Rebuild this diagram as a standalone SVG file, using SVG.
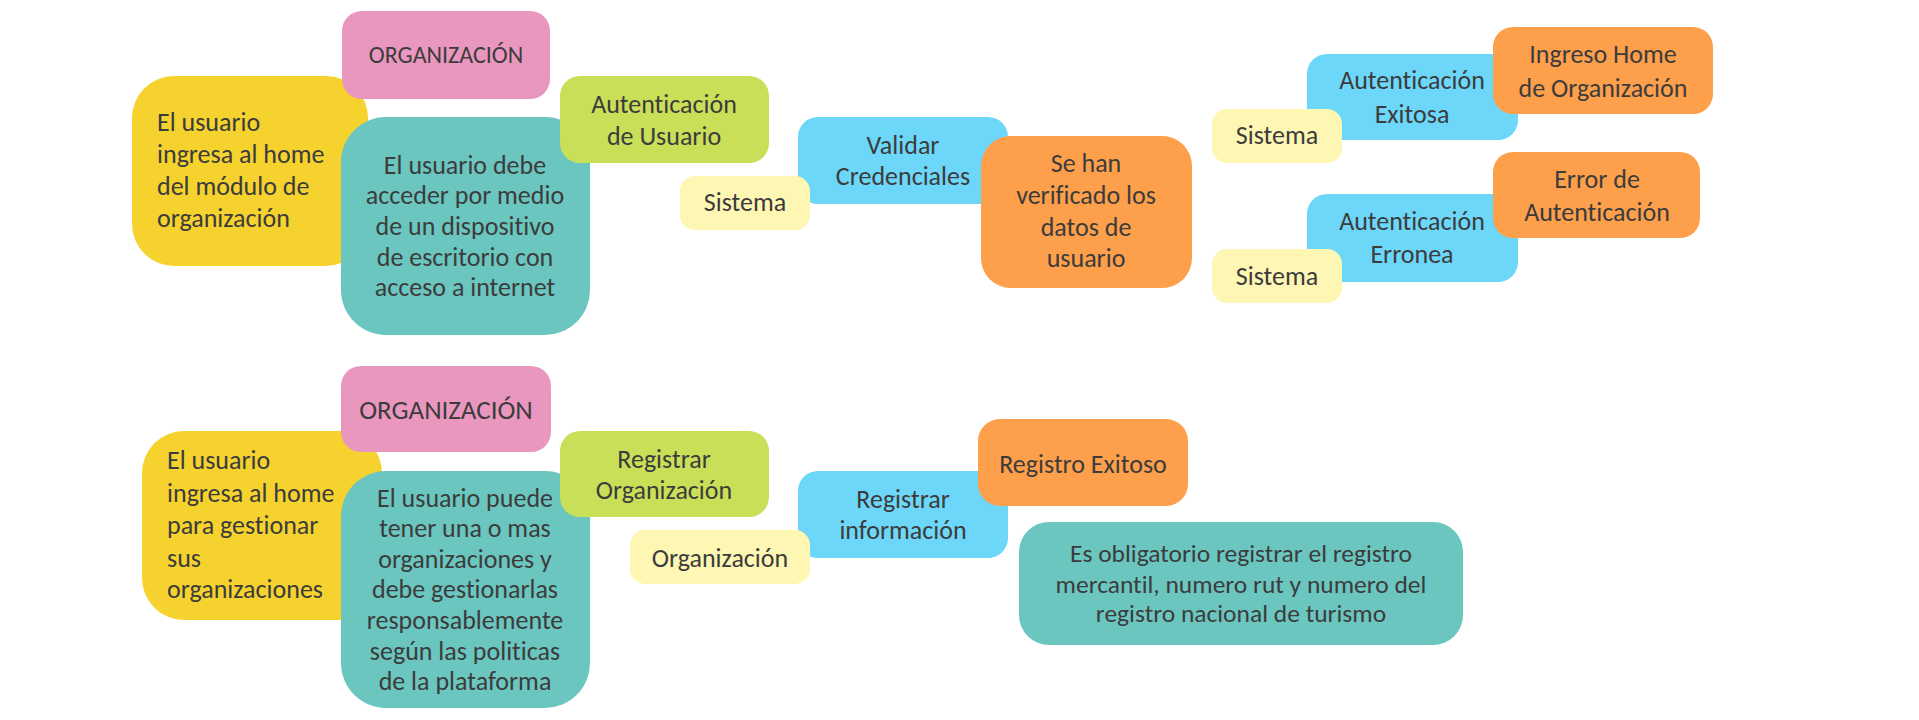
<svg xmlns="http://www.w3.org/2000/svg" width="1919" height="720" viewBox="0 0 1919 720">
<style>
.t{font-family:Carlito,Lato,"Liberation Sans",sans-serif;font-size:26px;fill:#3c3c3c;font-variant-ligatures:none;font-feature-settings:"liga" 0,"clig" 0}
.c{text-anchor:middle}
.yel{fill:#F5D22E}
.pink{fill:#EA97BF}
.teal{fill:#6AC6BF}
.green{fill:#C9DF58}
.ly{fill:#FEF6B3}
.blue{fill:#6CD7F8}
.org{fill:#FD9F4B}
</style>
<rect width="1919" height="720" fill="#ffffff"/>
<g id="connectors"/>
<!-- Top section -->
<g id="n-yellow1">
<rect class="yel" x="132" y="76" width="236" height="190" rx="42"/>
<text class="t" x="157"><tspan x="157" y="131">El usuario</tspan><tspan x="157" y="163">ingresa al home</tspan><tspan x="157" y="195">del módulo de</tspan><tspan x="157" y="227">organización</tspan></text>
</g>
<g id="n-pink1">
<rect class="pink" x="342" y="11" width="208" height="88" rx="20"/>
<text class="t c" x="446" y="63" style="font-size:24px">ORGANIZACIÓN</text>
</g>
<g id="n-teal1">
<rect class="teal" x="341" y="117" width="249" height="218" rx="45"/>
<text class="t c"><tspan x="465" y="174">El usuario debe</tspan><tspan x="465" y="204">acceder por medio</tspan><tspan x="465" y="235">de un dispositivo</tspan><tspan x="465" y="266">de escritorio con</tspan><tspan x="465" y="296">acceso a internet</tspan></text>
</g>
<g id="n-auth">
<rect class="green" x="560" y="76" width="209" height="87" rx="20"/>
<text class="t c"><tspan x="664" y="113">Autenticación</tspan><tspan x="664" y="145">de Usuario</tspan></text>
</g>
<g id="n-validar">
<rect class="blue" x="798" y="117" width="210" height="87" rx="20"/>
<text class="t c"><tspan x="903" y="154">Validar</tspan><tspan x="903" y="185">Credenciales</tspan></text>
</g>
<g id="n-sistema0">
<rect class="ly" x="680" y="176" width="130" height="54" rx="15"/>
<text class="t c" x="745" y="211">Sistema</text>
</g>
<g id="n-verificado">
<rect class="org" x="981" y="136" width="211" height="152" rx="30"/>
<text class="t c"><tspan x="1086" y="172">Se han</tspan><tspan x="1086" y="204">verificado los</tspan><tspan x="1086" y="236">datos de</tspan><tspan x="1086" y="267">usuario</tspan></text>
</g>
<g id="n-exitosa">
<rect class="blue" x="1307" y="54" width="211" height="86" rx="20"/>
<text class="t c"><tspan x="1412" y="89">Autenticación</tspan><tspan x="1412" y="123">Exitosa</tspan></text>
</g>
<g id="n-sistema1">
<rect class="ly" x="1212" y="109" width="130" height="54" rx="15"/>
<text class="t c" x="1277" y="144">Sistema</text>
</g>
<g id="n-ingreso">
<rect class="org" x="1493" y="27" width="220" height="87" rx="20"/>
<text class="t c"><tspan x="1603" y="63">Ingreso Home</tspan><tspan x="1603" y="97">de Organización</tspan></text>
</g>
<g id="n-erronea">
<rect class="blue" x="1307" y="194" width="211" height="88" rx="20"/>
<text class="t c"><tspan x="1412" y="230">Autenticación</tspan><tspan x="1412" y="263">Erronea</tspan></text>
</g>
<g id="n-sistema2">
<rect class="ly" x="1212" y="249" width="130" height="54" rx="15"/>
<text class="t c" x="1277" y="285">Sistema</text>
</g>
<g id="n-error">
<rect class="org" x="1493" y="152" width="207" height="86" rx="20"/>
<text class="t c"><tspan x="1597" y="188">Error de</tspan><tspan x="1597" y="221">Autenticación</tspan></text>
</g>
<!-- Bottom section -->
<g id="n-yellow2">
<rect class="yel" x="142" y="431" width="240" height="189" rx="42"/>
<text class="t"><tspan x="167" y="469">El usuario</tspan><tspan x="167" y="502">ingresa al home</tspan><tspan x="167" y="534">para gestionar</tspan><tspan x="167" y="567">sus</tspan><tspan x="167" y="598">organizaciones</tspan></text>
</g>
<g id="n-pink2">
<rect class="pink" x="341" y="366" width="210" height="86" rx="20"/>
<text class="t c" x="446" y="419" style="font-size:27px">ORGANIZACIÓN</text>
</g>
<g id="n-teal2">
<rect class="teal" x="341" y="471" width="249" height="237" rx="45"/>
<text class="t c"><tspan x="465" y="507">El usuario puede</tspan><tspan x="465" y="537">tener una o mas</tspan><tspan x="465" y="568">organizaciones y</tspan><tspan x="465" y="598">debe gestionarlas</tspan><tspan x="465" y="629">responsablemente</tspan><tspan x="465" y="660">según las politicas</tspan><tspan x="465" y="690">de la plataforma</tspan></text>
</g>
<g id="n-registrar-org">
<rect class="green" x="560" y="431" width="209" height="86" rx="20"/>
<text class="t c"><tspan x="664" y="468">Registrar</tspan><tspan x="664" y="499">Organización</tspan></text>
</g>
<g id="n-registrar-info">
<rect class="blue" x="798" y="471" width="210" height="87" rx="20"/>
<text class="t c"><tspan x="903" y="508">Registrar</tspan><tspan x="903" y="539">información</tspan></text>
</g>
<g id="n-organizacion">
<rect class="ly" x="630" y="530" width="180" height="54" rx="15"/>
<text class="t c" x="720" y="567">Organización</text>
</g>
<g id="n-registro-exitoso">
<rect class="org" x="978" y="419" width="210" height="87" rx="22"/>
<text class="t c" x="1083" y="473">Registro Exitoso</text>
</g>
<g id="n-obligatorio">
<rect class="teal" x="1019" y="522" width="444" height="123" rx="30"/>
<text class="t c" style="font-size:25.5px"><tspan x="1241" y="562">Es obligatorio registrar el registro</tspan><tspan x="1241" y="593">mercantil, numero rut y numero del</tspan><tspan x="1241" y="622">registro nacional de turismo</tspan></text>
</g>
</svg>
